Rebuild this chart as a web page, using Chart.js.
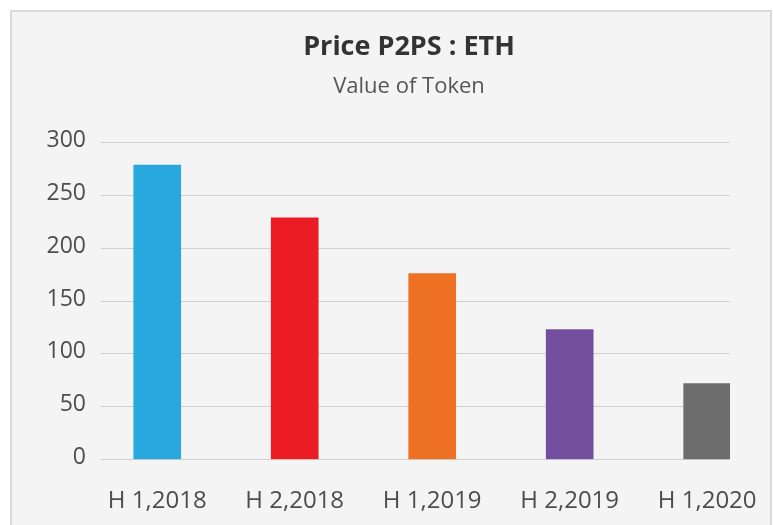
<!DOCTYPE html>
<html>
<head>
<meta charset="utf-8">
<script src="https://cdn.jsdelivr.net/npm/chart.js@4/dist/chart.umd.min.js"></script>
<style>
html,body{margin:0;padding:0;background:#fff;}
canvas{display:block;}
</style>
</head>
<body>
<canvas id="c" width="773" height="525"></canvas>
<script>
const categories = ["H 1,2018", "H 2,2018", "H 1,2019", "H 2,2019", "H 1,2020"];
const values = [279, 229, 176, 123, 72];
const barColors = ["#29a8e0", "#ec1c24", "#ee7023", "#744fa0", "#6d6d6d"];
const yTicks = [0, 50, 100, 150, 200, 250, 300];
const titleText = "Price P2PS : ETH";
const subtitleText = "Value of Token";

const frame = {
  id: 'frame',
  beforeDraw(chart) {
    const ctx = chart.ctx;
    ctx.save();
    ctx.fillStyle = '#ffffff';
    ctx.fillRect(0, 0, chart.width, chart.height);
    ctx.fillStyle = '#f4f4f4';
    ctx.fillRect(11, 10, 760, chart.height);
    ctx.strokeStyle = '#dadada';
    ctx.lineWidth = 2;
    ctx.strokeRect(11, 11, 760, chart.height + 10);
    ctx.restore();
  }
};

new Chart(document.getElementById('c'), {
  type: 'bar',
  data: {
    datasets: [{
      data: values.map((v, i) => ({x: i, y: v})),
      backgroundColor: barColors,
      barThickness: 47,
      borderWidth: 0
    }]
  },
  options: {
    responsive: false,
    animation: false,
    layout: { padding: { left: 45, right: 0, top: 0, bottom: 0 } },
    plugins: {
      legend: { display: false },
      tooltip: { enabled: false },
      title: {
        display: true,
        text: titleText,
        color: '#333333',
        font: { family: 'Open Sans', size: 27, weight: 'bold', lineHeight: 1.2 },
        padding: { top: 31, bottom: 0 }
      },
      subtitle: {
        display: true,
        text: subtitleText,
        color: '#555555',
        font: { family: 'Open Sans', size: 22, weight: 'normal', lineHeight: 1.2 },
        padding: { top: 10, bottom: 43 }
      }
    },
    scales: {
      x: {
        type: 'linear',
        offset: false,
        min: -0.409,
        max: 4.166,
        grid: { display: false, drawTicks: false },
        border: { display: false },
        afterBuildTicks: (s) => { s.ticks = categories.map((c, i) => ({ value: i })); },
        afterFit: (s) => { s.height = 65.5; s.paddingLeft = 0; s.paddingRight = 43; },
        ticks: {
          color: '#4d4d4d',
          font: { family: 'Open Sans', size: 24 },
          padding: 27,
          maxRotation: 0,
          autoSkip: false,
          callback: (v) => categories[v]
        }
      },
      y: {
        min: 0,
        max: 300,
        afterBuildTicks: (s) => { s.ticks = yTicks.map(v => ({ value: v })); },
        afterFit: (s) => { s.width = 56; },
        grid: { color: '#cfcfcf', lineWidth: 1, drawTicks: false },
        border: { display: false },
        ticks: {
          color: '#4d4d4d',
          font: { family: 'Open Sans', size: 23 },
          padding: 15,
          labelOffset: -2
        }
      }
    }
  },
  plugins: [frame]
});
</script>
</body>
</html>
